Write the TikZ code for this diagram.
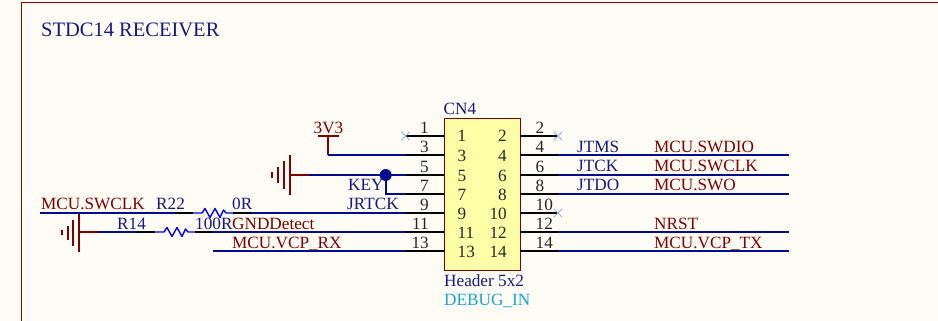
\documentclass[tikz,border=0pt]{standalone}
\usepackage{fontspec}
\setmainfont{Liberation Serif}
\definecolor{bgc}{HTML}{FFFBF5}
\definecolor{netblue}{HTML}{000C8C}
\definecolor{dred}{HTML}{800000}
\definecolor{txtblue}{HTML}{141A80}
\definecolor{resblue}{HTML}{0000FF}
\definecolor{xblue}{HTML}{8DB5D5}
\definecolor{cyanlbl}{HTML}{16A6D6}
\definecolor{bodyy}{HTML}{FFFFA8}
\tikzset{
  x=1pt,y=-1pt,
  wire/.style={draw=netblue,line width=2pt},
  pwr/.style={draw=dred,line width=2pt},
  pin/.style={draw=black,line width=2pt},
  res/.style={draw=resblue,line width=1.4pt,line join=round},
  nc/.style={draw=xblue,line width=0.9pt},
  lbl/.style={font=\fontsize{17.2}{18}\selectfont,inner sep=0pt,anchor=base west},
  pinnum/.style={lbl,anchor=base,text=black!85},
  netn/.style={lbl,text=dred},
  des/.style={lbl,text=txtblue},
  jct/.style={circle,fill=netblue,inner sep=0pt,minimum size=12pt}
}
\begin{document}
\begin{tikzpicture}
\useasboundingbox (0,0) rectangle (938,321);
\fill[bgc] (0,0) rectangle (938,321);
\draw[draw=dred!85!red,line width=1pt] (21.5,321) -- (21.5,2.5) -- (938,2.5);
\node[des,font=\fontsize{20.5}{21}\selectfont] (title) at (41,36.5) {STDC14 RECEIVER};

% connector body
\node[draw=dred,fill=bodyy,line width=1pt,minimum width=76pt,minimum height=152.5pt,inner sep=0pt,anchor=north west] (cn) at (443.5,117.8) {};
\node[des] (cnname) at (443.5,114) {CN4};
\node[des] (cnval) at (444,286) {Header 5x2};
\node[lbl,text=cyanlbl] (cnlbl) at (444,305) {DEBUG\_IN};

% pin coordinates
\foreach \n/\y in {1/136,3/155,5/175,7/194,9/213,11/232,13/251}{
  \coordinate (L\n) at (443.5,\y);
  \coordinate (LE\n) at (405.5,\y);
  \draw[pin] (L\n) -- (LE\n);
  \node[pinnum,anchor=base east] (ln\n) at (429,\y-3) {\n};
}
\foreach \n/\y in {2/136,4/155,6/175,8/194,10/213,12/232,14/251}{
  \coordinate (R\n) at (519.5,\y);
  \coordinate (RE\n) at (558,\y);
  \draw[pin] (R\n) -- (RE\n);
  \node[pinnum,anchor=base west] (rn\n) at (535.5,\y-3) {\n};
}
% internal numbers
\foreach \n/\y in {1/141.7,3/161.5,5/181.5,7/200,9/219.3,11/238.3,13/257.3}{
  \node[pinnum,anchor=base west] (il\n) at (457.5,\y) {\n};
}
\foreach \n/\y in {2/141.7,4/161,6/181.5,8/200,10/219.3,12/238.3,14/257.3}{
  \node[pinnum,anchor=base east] (ir\n) at (507,\y) {\n};
}
% no-connect marks
\foreach \c in {LE1,RE2,RE10}{
  \draw[nc] ([shift={(-4,-4)}]\c) -- ([shift={(4,4)}]\c) ([shift={(-4,4)}]\c) -- ([shift={(4,-4)}]\c);
}

% right wires
\foreach \n/\y in {4/155,6/175,8/194,12/232,14/251}{
  \coordinate (W\n) at (789,\y);
  \draw[wire] (RE\n) -- (W\n);
}
\node[des] at (577,152) {JTMS};
\node[des] at (577,171.5) {JTCK};
\node[des] at (577,190.5) {JTDO};
\node[netn] at (654,152) {MCU.SWDIO};
\node[netn] at (654,171.5) {MCU.SWCLK};
\node[netn] at (654,190.5) {MCU.SWO};
\node[netn] at (654,229) {NRST};
\node[netn] at (654,248) {MCU.VCP\_TX};

% 3V3
\coordinate (vcc) at (328,136);
\coordinate (vcc3) at (328,155);
\draw[pwr] (318,136) -- (339,136);
\draw[pwr] (vcc) -- (vcc3);
\draw[wire] (vcc3) -- (LE3);
\node[lbl,text=dred,anchor=base] (v33) at (328.5,133) {3V3};

% upper GND
\coordinate (g1) at (290,175);
\coordinate (g1e) at (309,175);
\draw[pwr] (290,155) -- (290,194.5) (284,161) -- (284,188.5) (278,167) -- (278,182.5) (272,172) -- (272,177.5);
\draw[pwr] (g1) -- (g1e);
\draw[wire] (g1e) -- (LE5);
\node[jct] (j) at (385.7,175) {};
\draw[wire] (j.center) |- (LE7);
\node[des] at (348,190) {KEY};
\node[des] at (347,209) {JRTCK};

% top left wire with R22
\coordinate (w9) at (40,213);
\coordinate (r22a) at (175,213);
\coordinate (r22b) at (193,213);
\coordinate (r22c) at (233,213);
\coordinate (r22d) at (252,213);
\draw[wire] (w9) -- (r22a);
\draw[pin] (r22a) -- (r22b);
\draw[res] (r22b) -- (202,213) -- (205,208.5) -- (210,217.5) -- (215,208.5) -- (220,217.5) -- (223.5,210) -- (226,213) -- (r22c);
\draw[pin] (r22c) -- (r22d);
\draw[wire] (r22d) -- (LE9);
\node[netn] at (41,209) {MCU.SWCLK};
\node[des] at (156,209) {R22};
\node[des] at (232,209) {0R};

% lower GND with R14
\coordinate (g2) at (79,232);
\coordinate (g2e) at (98,232);
\coordinate (r14a) at (137,232);
\coordinate (r14b) at (155,232);
\coordinate (r14c) at (195,232);
\coordinate (r14d) at (213,232);
\draw[pwr] (79,213.5) -- (79,252) (73,220) -- (73,246) (67.5,226) -- (67.5,240) (62,230) -- (62,235);
\draw[pwr] (g2) -- (g2e);
\draw[wire] (g2e) -- (r14a);
\draw[pin] (r14a) -- (r14b);
\draw[res] (r14b) -- (164,232) -- (167,227.5) -- (172,236.5) -- (177,227.5) -- (182,236.5) -- (185.5,229) -- (188,232) -- (r14c);
\draw[pin] (r14c) -- (r14d);
\draw[wire] (r14d) -- (LE11);
\node[des] at (117,229) {R14};
\node[des] at (195,229) {100R};
\node[netn] at (232,229) {GNDDetect};

% VCP RX
\coordinate (rx) at (213,251);
\draw[wire] (rx) -- (LE13);
\node[netn] at (232,248) {MCU.VCP\_RX};
\end{tikzpicture}
\end{document}
